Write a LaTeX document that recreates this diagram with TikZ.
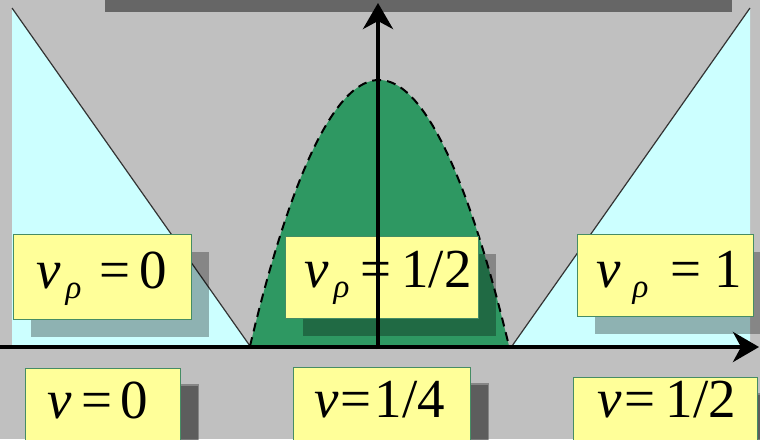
\documentclass[tikz,border=0pt]{standalone}
\usepackage{fontspec}
\setmainfont{Liberation Serif}
\usetikzlibrary{arrows.meta,shadows}
\definecolor{bgg}{RGB}{192,192,192}
\definecolor{barc}{RGB}{102,102,102}
\definecolor{cyanf}{RGB}{204,255,255}
\definecolor{greenf}{RGB}{46,152,98}
\definecolor{yell}{RGB}{255,255,153}
\definecolor{bord}{RGB}{70,140,100}
\newcommand{\NuRho}{\textit{ν}\hspace{5pt}\raisebox{-10pt}{\fontsize{33}{33}\selectfont\textit{ρ}}}
\tikzset{
  ybox/.style={draw=bord, line width=1.2pt, fill=yell, inner sep=0pt, anchor=north west,
    drop shadow={shadow xshift=17pt, shadow yshift=-17pt, fill=black, opacity=0.3}},
  ybox2/.style={ybox, drop shadow={shadow xshift=18pt, shadow yshift=-15pt, fill=black, opacity=0.3}},
  lbl/.style={inner sep=0pt, anchor=base west, font=\fontsize{55}{62}\selectfont},
  axis/.style={line width=4pt, -{Stealth[length=26pt,width=30pt,inset=8pt]}},
  hyp/.style={line width=1.2pt, black!80},
  pdash/.style={line width=2pt, dash pattern=on 9pt off 6pt}
}
\begin{document}
\begin{tikzpicture}[x=1pt,y=-1pt]
\useasboundingbox (0,0) rectangle (760,439);
\fill[bgg] (0,0) rectangle (760,439);
\fill[barc] (105,0) rectangle (732,12);
% left region
\coordinate (lt) at (12,8);
\coordinate (lb) at (12,346);
\coordinate (lv) at (250,346);
\fill[cyanf] (lt) -- (lb) -- (lv) -- cycle;
\draw[hyp] (lt) -- (lv);
% right region
\coordinate (rt) at (750,8);
\coordinate (rb) at (750,346);
\coordinate (rv) at (512,346);
\fill[cyanf] (rt) -- (rb) -- (rv) -- cycle;
\draw[hyp] (rt) -- (rv);
% parabola
\coordinate (pl) at (250,346);
\coordinate (pt) at (379,80);
\coordinate (pr) at (509,346);
\fill[greenf] (pl) parabola bend (pt) (pr) -- cycle;
\draw[pdash] (pl) parabola bend (pt) (pr);
% upper boxes
\node[ybox, minimum width=178pt, minimum height=85pt] (b1) at (13,234) {};
\node[ybox, minimum width=193pt, minimum height=82pt] (b2) at (285,236) {};
\node[ybox, minimum width=176pt, minimum height=82pt] (b3) at (577,234) {};
% lower boxes
\node[ybox2, minimum width=155pt, minimum height=85pt] (c1) at (25,368) {};
\node[ybox2, minimum width=177pt, minimum height=85pt] (c2) at (293,367) {};
\node[ybox2, minimum width=184pt, minimum height=85pt] (c3) at (573,377) {};
% labels
\node[lbl] (t1) at (36,288) {\NuRho\hspace{18pt}=\hspace{9pt}0};
\node[lbl] (t2) at (304,287) {\NuRho\hspace{11pt}=\hspace{10pt}1/2};
\node[lbl] (t3) at (596,287) {\textit{ν}\hspace{12pt}\raisebox{-10pt}{\fontsize{33}{33}\selectfont\textit{ρ}}\hspace{22pt}=\hspace{13pt}1};
\node[lbl] (u1) at (47,418) {\textit{ν}\hspace{10pt}=\hspace{8pt}0};
\node[lbl] (u2) at (314,417) {\textit{ν}\hspace{2pt}=\hspace{3pt}1/4};
\node[lbl] (u3) at (597,417) {\textit{ν}\hspace{3pt}=\hspace{10pt}1/2};
% axes
\coordinate (xo) at (0,347);
\coordinate (xe) at (759,347);
\coordinate (yo) at (378,349);
\coordinate (ye) at (378,3);
\draw[axis] (xo) -- (xe);
\draw[axis] (yo) -- (ye);
\end{tikzpicture}
\end{document}
